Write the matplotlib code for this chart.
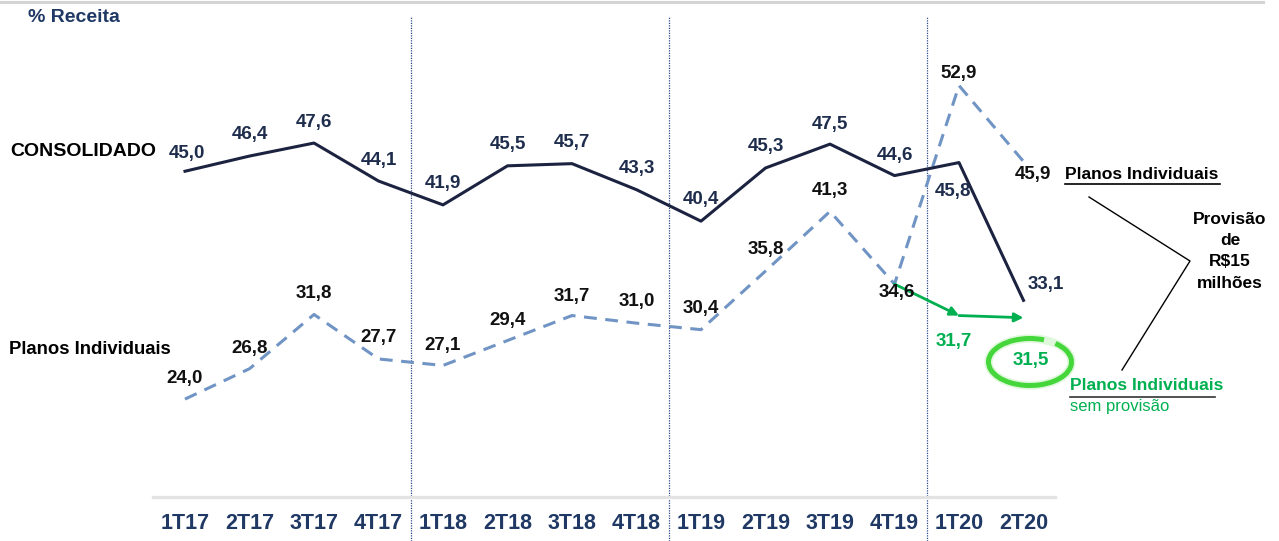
import matplotlib
matplotlib.use("Agg")
import matplotlib.pyplot as plt
from matplotlib.lines import Line2D
from matplotlib.patches import Ellipse, Arc

plt.rcParams['font.family'] = ['Liberation Sans', 'DejaVu Sans']

# ---------------- data ----------------
quarters = ["1T17", "2T17", "3T17", "4T17", "1T18", "2T18", "3T18", "4T18",
            "1T19", "2T19", "3T19", "4T19", "1T20", "2T20"]
consolidado = [45.0, 46.4, 47.6, 44.1, 41.9, 45.5, 45.7, 43.3, 40.4, 45.3, 47.5, 44.6, 45.8, 33.1]
planos = [24.0, 26.8, 31.8, 27.7, 27.1, 29.4, 31.7, 31.0, 30.4, 35.8, 41.3, 34.6, 52.9, 45.9]
sem_prov_quarters = ["4T19", "1T20", "2T20"]
sem_prov = [34.6, 31.7, 31.5]

# ---------------- styling ----------------
W, H = 1279, 541
NAVY_LINE = "#1C2340"
DASH_BLUE = "#7094C4"
NAVY_TXT = "#1F3864"
LABEL_NAVY = "#1F2D4D"
GREEN = "#00B050"

# label offsets in pixels (dx, dy up)
cons_off = [(2, 18), (0, 22), (0, 21), (0, 21), (0, 21), (0, 21), (0, 21), (0, 21),
            (0, 22), (0, 21), (0, 20), (0, 20), (-6, -29), (22, 16)]
plan_off = [(0, 21), (0, 20), (0, 21), (0, 21), (0, 20), (0, 20), (0, 19), (0, 22),
            (0, 21), (0, 22), (0, 21), (2, -8), (0, 12), (9, -13)]
green_off = [None, (-5, -26), (7, -43)]

fig = plt.figure(figsize=(W / 100, H / 100), dpi=100)
ax = fig.add_axes([0, 0, 1, 1])
x_step, x0 = 64.5, 185
y_a, y_b = 659.5, 10.85
ax.set_xlim(-x0 / x_step, (W - x0) / x_step)
ax.set_ylim((y_a - H) / y_b, y_a / y_b)
ax.axis("off")


def P(x, y):
    return (x / W, 1 - y / H)


def fig_line(xs, ys, **kw):
    fig.add_artist(Line2D([x / W for x in xs], [1 - y / H for y in ys],
                          transform=fig.transFigure, **kw))


xs = list(range(len(quarters)))

# top shadow line and baseline
fig_line([0, 1263], [1.5, 1.5], color="#D4D4D4", lw=2.2)
fig_line([153, 1055], [497, 497], color="#E3E3E3", lw=2.4)

# separators between years
for sep in [3.5, 7.5, 11.5]:
    ax.plot([sep, sep], [(y_a - H) / y_b, (y_a - 17) / y_b], color="#2F4A8A",
            lw=0.9, ls=(0, (1, 1)), zorder=1)

# series
ax.plot(xs, planos, color=DASH_BLUE, lw=2.2, dashes=(4.2, 2.8), zorder=2,
        dash_capstyle="butt")
ax.plot(xs, consolidado, color=NAVY_LINE, lw=2.2, zorder=3)

# green "sem provisão" arrows
gx = [quarters.index(q) for q in sem_prov_quarters]
for k in range(len(gx) - 1):
    ax.annotate("", xy=(gx[k + 1], sem_prov[k + 1]), xytext=(gx[k], sem_prov[k]),
                arrowprops=dict(arrowstyle="-|>", color=GREEN, lw=2.0,
                                mutation_scale=13, shrinkA=0, shrinkB=0),
                zorder=4)

# data labels
for i, v in enumerate(consolidado):
    ax.annotate(f"{v:.1f}".replace(".", ","), (i, v), xytext=cons_off[i],
                textcoords="offset pixels", ha="center", va="center",
                fontsize=13.5, fontweight="bold", color=LABEL_NAVY, zorder=5)
for i, v in enumerate(planos):
    ax.annotate(f"{v:.1f}".replace(".", ","), (i, v), xytext=plan_off[i],
                textcoords="offset pixels", ha="center", va="center",
                fontsize=13.5, fontweight="bold", color="#111111", zorder=5)
for k in range(1, len(gx)):
    ax.annotate(f"{sem_prov[k]:.1f}".replace(".", ","), (gx[k], sem_prov[k]),
                xytext=green_off[k], textcoords="offset pixels", ha="center",
                va="center", fontsize=13.5, fontweight="bold", color=GREEN, zorder=5)

# hand-drawn style highlight around 31,5
fig.add_artist(Ellipse(P(1030, 362), 83 / W, 47 / H, transform=fig.transFigure,
                       fill=False, edgecolor="#B9F0B0", lw=6, alpha=0.45))
fig.add_artist(Arc(P(1030, 362), 83 / W, 47 / H, transform=fig.transFigure,
                   theta1=75, theta2=420, edgecolor="#44D63A", lw=3.6))

# x tick labels
for i, q in enumerate(quarters):
    ax.text(i, 1 - 523.5 / H, q, transform=ax.get_xaxis_transform(), ha="center",
            va="center", fontsize=15.5, fontweight="bold", color=NAVY_TXT)

# static texts
fig.text(*P(28, 18), "% Receita", ha="left", va="center", fontsize=14,
         fontweight="bold", color=NAVY_TXT)
fig.text(*P(10, 152), "CONSOLIDADO", ha="left", va="center", fontsize=14,
         fontweight="bold", color="black")
fig.text(*P(9, 350), "Planos Individuais", ha="left", va="center", fontsize=13.3,
         fontweight="bold", color="black")
fig.text(*P(1065, 174), "Planos Individuais", ha="left", va="center", fontsize=12.6,
         fontweight="bold", color="black")
fig_line([1065, 1220], [183.5, 183.5], color="black", lw=1.2)
for y, t in zip([219, 240, 261, 283], ["Provisão", "de", "R$15", "milhões"]):
    fig.text(*P(1230, y), t, ha="center", va="center", fontsize=12.5,
             fontweight="bold", color="black")
fig_line([1089, 1190, 1122], [197, 261, 370], color="black", lw=1.0)
fig.text(*P(1070, 386), "Planos Individuais", ha="left", va="center", fontsize=12.6,
         fontweight="bold", color=GREEN)
fig_line([1070, 1215], [397, 397], color="#333333", lw=1.2)
fig.text(*P(1070, 407), "sem provisão", ha="left", va="center", fontsize=12,
         color=GREEN)

fig.savefig("out.png", dpi=100)
